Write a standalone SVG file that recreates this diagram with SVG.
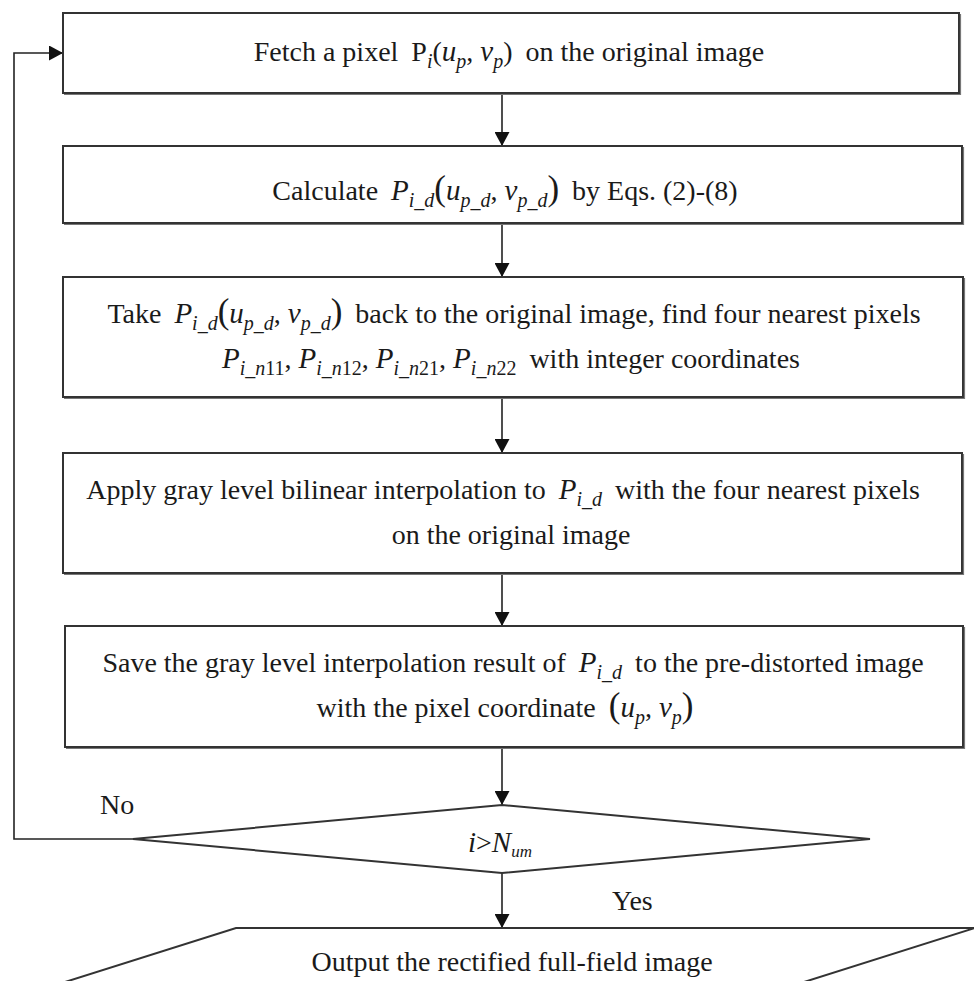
<svg xmlns="http://www.w3.org/2000/svg" width="974" height="981" viewBox="0 0 974 981">
  <defs>
    <marker id="arrow" viewBox="0 0 14 15" refX="14" refY="7.5" markerWidth="14" markerHeight="15" markerUnits="userSpaceOnUse" orient="auto">
      <path d="M0,0 L14,7.5 L0,15 Z" fill="#111"/>
    </marker>
  </defs>
  <style>
    .box{fill:#fff;stroke:#333;stroke-width:2}
    .shade{fill:none;stroke:#777;stroke-width:1.2}
    .edge{fill:none;stroke:#222;stroke-width:1.6}
    .t{font-family:"Liberation Serif","Times New Roman",serif;font-size:28px;fill:#1a1a1a;text-anchor:middle}
    .l{font-family:"Liberation Serif","Times New Roman",serif;font-size:28px;fill:#1a1a1a}
    .i{font-style:italic;font-size:29px}
    .s{font-style:italic;font-size:20px}
    .n{font-style:normal;font-size:20px}
    .bp{font-size:35px}
  </style>

  <g id="connectors">
    <path class="edge" d="M502,93 V146" marker-end="url(#arrow)"/>
    <path class="edge" d="M502,223 V277" marker-end="url(#arrow)"/>
    <path class="edge" d="M502,397 V453" marker-end="url(#arrow)"/>
    <path class="edge" d="M502,573 V626" marker-end="url(#arrow)"/>
    <path class="edge" d="M502,747 V805" marker-end="url(#arrow)"/>
    <path class="edge" d="M502,873 V928" marker-end="url(#arrow)"/>
    <path class="edge" d="M133,839 H14 V53 H63" marker-end="url(#arrow)"/>
  </g>

  <g id="fetch">
    <rect class="box" x="63" y="13" width="896" height="80"/>
    <path class="shade" d="M960.5,14 V94.5 H64"/>
    <text class="t" x="509" y="61">Fetch a pixel <tspan dx="6">P</tspan><tspan class="s" dy="7">i</tspan><tspan dy="-7">(</tspan><tspan class="i">u</tspan><tspan class="s" dy="7">p</tspan><tspan dy="-7">, </tspan><tspan class="i">v</tspan><tspan class="s" dy="7">p</tspan><tspan dy="-7">)</tspan><tspan dx="6"> on the original image</tspan></text>
  </g>

  <g id="calculate">
    <rect class="box" x="63" y="146" width="899" height="77"/>
    <path class="shade" d="M963.5,147 V224.5 H64"/>
    <text class="t" x="505" y="200">Calculate <tspan dx="6" class="i">P</tspan><tspan class="s" dy="7">i_d</tspan><tspan class="bp" dy="-7">(</tspan><tspan class="i">u</tspan><tspan class="s" dy="7">p_d</tspan><tspan dy="-7">, </tspan><tspan class="i">v</tspan><tspan class="s" dy="7">p_d</tspan><tspan class="bp" dy="-7">)</tspan><tspan dx="6"> by Eqs. (2)-(8)</tspan></text>
  </g>

  <g id="take-back">
    <rect class="box" x="63" y="277" width="900" height="120"/>
    <path class="shade" d="M964.5,278 V398.5 H64"/>
    <text class="t" x="514" y="323">Take <tspan dx="6" class="i">P</tspan><tspan class="s" dy="7">i_d</tspan><tspan class="bp" dy="-7">(</tspan><tspan class="i">u</tspan><tspan class="s" dy="7">p_d</tspan><tspan dy="-7">, </tspan><tspan class="i">v</tspan><tspan class="s" dy="7">p_d</tspan><tspan class="bp" dy="-7">)</tspan><tspan dx="6"> back to the original image, find four nearest pixels</tspan></text>
    <text class="t" x="511" y="368"><tspan class="i">P</tspan><tspan class="s" dy="7">i_n</tspan><tspan class="n">11</tspan><tspan dy="-7">, </tspan><tspan class="i">P</tspan><tspan class="s" dy="7">i_n</tspan><tspan class="n">12</tspan><tspan dy="-7">, </tspan><tspan class="i">P</tspan><tspan class="s" dy="7">i_n</tspan><tspan class="n">21</tspan><tspan dy="-7">, </tspan><tspan class="i">P</tspan><tspan class="s" dy="7">i_n</tspan><tspan class="n">22</tspan><tspan dy="-7" dx="6"> with integer coordinates</tspan></text>
  </g>

  <g id="interpolate">
    <rect class="box" x="63" y="453" width="899" height="120"/>
    <path class="shade" d="M963.5,454 V574.5 H64"/>
    <text class="t" x="503" y="499">Apply gray level bilinear interpolation to <tspan dx="6" class="i">P</tspan><tspan class="s" dy="7">i_d</tspan><tspan dy="-7" dx="6"> with the four nearest pixels</tspan></text>
    <text class="t" x="511" y="544">on the original image</text>
  </g>

  <g id="save">
    <rect class="box" x="65" y="626" width="898" height="121"/>
    <path class="shade" d="M964.5,627 V748.5 H66"/>
    <text class="t" x="513" y="672">Save the gray level interpolation result of <tspan dx="6" class="i">P</tspan><tspan class="s" dy="7">i_d</tspan><tspan dy="-7" dx="6"> to the pre-distorted image</tspan></text>
    <text class="t" x="505" y="717">with the pixel coordinate <tspan dx="6" class="bp">(</tspan><tspan class="i">u</tspan><tspan class="s" dy="7">p</tspan><tspan dy="-7">, </tspan><tspan class="i">v</tspan><tspan class="s" dy="7">p</tspan><tspan class="bp" dy="-7">)</tspan></text>
  </g>

  <g id="check">
    <polygon class="box" points="133,839 502,805 870,839 502,873"/>
    <text class="t" x="500" y="852"><tspan class="i">i</tspan>&gt;<tspan class="i">N</tspan><tspan class="s" dy="5" style="font-size:17px">um</tspan></text>
    <text class="l" x="100" y="814">No</text>
    <text class="l" x="612" y="910">Yes</text>
  </g>

  <g id="output">
    <polygon class="box" points="236,928 975,928 747,1000 8,1000"/>
    <text class="t" x="512" y="971">Output the rectified full-field image</text>
  </g>
</svg>
